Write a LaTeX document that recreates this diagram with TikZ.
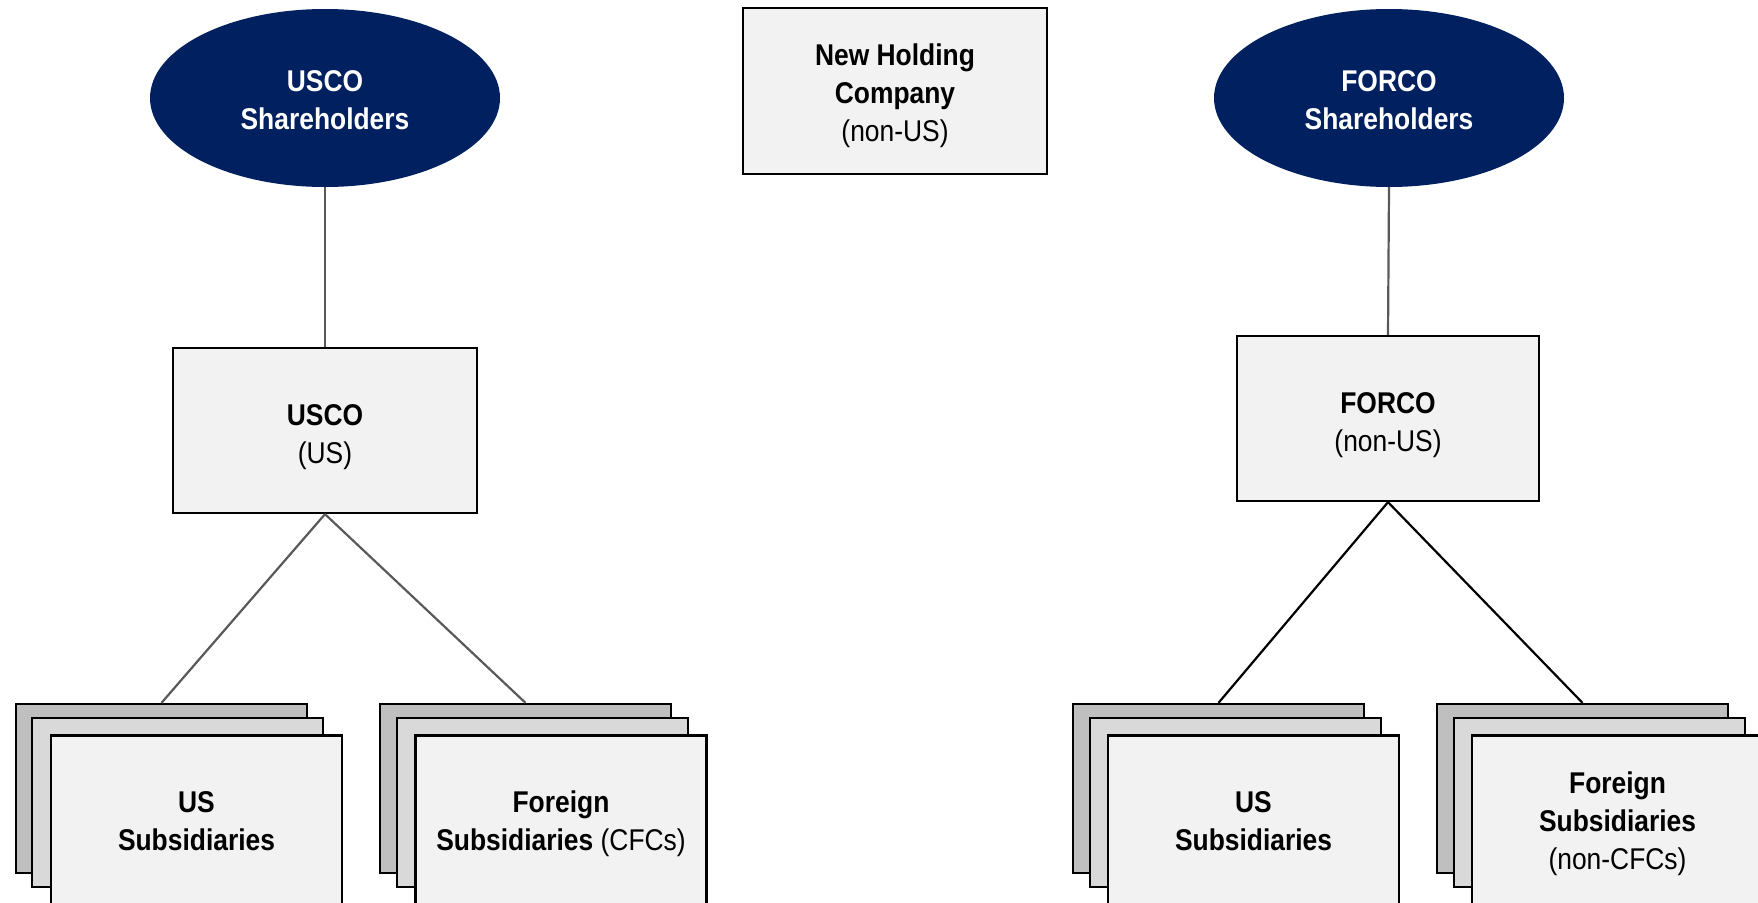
\documentclass[tikz,border=0pt]{standalone}
\usepackage{fontspec}
\setmainfont[FakeStretch=0.88]{Liberation Sans}
\usetikzlibrary{shapes.geometric}
\definecolor{navy}{RGB}{0,32,96}
\definecolor{boxfill}{RGB}{242,242,242}
\definecolor{midfill}{RGB}{217,217,217}
\definecolor{backfill}{RGB}{191,191,191}
\definecolor{linkgray}{RGB}{89,89,89}
% centred lines of text, set a little below the geometric centre
\newcommand\stackedtext[2]{\raisebox{-#1}[\height][\depth]{\begin{tabular}{@{}c@{}}#2\end{tabular}}}
\tikzset{
  entity/.style={draw=black, line width=2.3pt, fill=boxfill,
    inner sep=0pt, minimum width=304pt, minimum height=166pt,
    font=\fontsize{30}{38}\selectfont},
  holders/.style={ellipse, fill=navy, text=white, inner sep=0pt,
    minimum width=350pt, minimum height=178pt,
    font=\fontsize{30}{38}\selectfont\bfseries},
  subbox/.style={draw=black, line width=2.3pt, inner sep=0pt,
    minimum width=291pt, minimum height=169pt,
    font=\fontsize{30}{38}\selectfont},
  backsheet/.style={subbox, fill=backfill},
  midsheet/.style={subbox, fill=midfill},
  frontsheet/.style={subbox, fill=boxfill},
  graylink/.style={draw=linkgray, line width=2.2pt},
  blacklink/.style={draw=black, line width=2.2pt}
}
\begin{document}
\begin{tikzpicture}[x=1pt, y=-1pt]
\useasboundingbox (0,0) rectangle (1758,902);
\clip (0,0) rectangle (1758,902);

% top row
\node[holders] (ush) at (325,98) {\stackedtext{5pt}{USCO\\Shareholders}};
\node[entity] (newco) at (895,91) {\stackedtext{5pt}{\textbf{New Holding}\\\textbf{Company}\\(non-US)}};
\node[holders] (fsh) at (1389,98) {\stackedtext{5pt}{FORCO\\Shareholders}};

% parent companies
\node[entity, minimum height=165pt, minimum width=304pt] (usco) at (325,430.5) {\stackedtext{6pt}{\textbf{USCO}\\(US)}};
\node[entity, minimum height=165pt, minimum width=302pt] (forco) at (1388,418.5) {\stackedtext{6pt}{\textbf{FORCO}\\(non-US)}};

% USCO subsidiaries (stacked sheets)
\node[backsheet] (ussubA) at (161.5,788.5) {};
\node[midsheet] (ussubB) at (177.5,802.5) {};
\node[frontsheet] (ussubC) at (196.5,820) {\stackedtext{4pt}{\textbf{US}\\\textbf{Subsidiaries}}};

\node[backsheet] (cfcA) at (525.5,788.5) {};
\node[midsheet] (cfcB) at (542.5,802.5) {};
\node[frontsheet] (cfcC) at (561,820) {\stackedtext{4pt}{\textbf{Foreign}\\\textbf{Subsidiaries} (CFCs)}};

% FORCO subsidiaries (stacked sheets)
\node[backsheet] (fussubA) at (1218.5,788.5) {};
\node[midsheet] (fussubB) at (1235.5,802.5) {};
\node[frontsheet] (fussubC) at (1253.5,820) {\stackedtext{4pt}{\textbf{US}\\\textbf{Subsidiaries}}};

\node[backsheet] (ncfcA) at (1582.5,788.5) {};
\node[midsheet] (ncfcB) at (1599.5,802.5) {};
\node[frontsheet] (ncfcC) at (1617.5,820) {\stackedtext{4pt}{\textbf{Foreign}\\\textbf{Subsidiaries}\\(non-CFCs)}};

% ownership links
\draw[graylink] (ush.south) -- (usco.north);
\draw[graylink] (usco.south) -- (ussubA.north);
\draw[graylink] (usco.south) -- (cfcA.north);
\draw[graylink] (fsh.south) -- (forco.north);
\draw[blacklink] (forco.south) -- (fussubA.north);
\draw[blacklink] (forco.south) -- (ncfcA.north);
\end{tikzpicture}
\end{document}
